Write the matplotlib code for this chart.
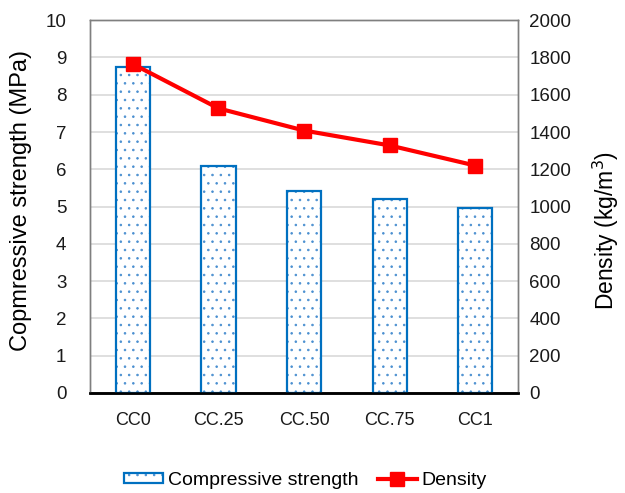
import matplotlib.pyplot as plt
import numpy as np
from matplotlib.lines import Line2D
from matplotlib.patches import Patch

plt.rcParams['font.family'] = ['Liberation Sans', 'DejaVu Sans']
plt.rcParams['hatch.linewidth'] = 0.6

mixes = ['CC0', 'CC.25', 'CC.50', 'CC.75', 'CC1']
strength = [8.75, 6.08, 5.43, 5.19, 4.97]       # MPa
density = [1765, 1527, 1408, 1328, 1220]         # kg/m3

blue = '#0070C0'
dot_blue = '#4a8fd0'
red = '#FF0000'

fig = plt.figure(figsize=(6.25, 4.93), dpi=100)
ax = fig.add_axes([0.144, 0.203, 0.685, 0.756])
ax2 = ax.twinx()

x = np.arange(len(mixes))
# dotted fill and outline drawn separately so the dots can be lighter than the edge
ax.bar(x, strength, width=0.4, facecolor='white', edgecolor=dot_blue,
       linewidth=0, hatch='..', zorder=3)
ax.bar(x, strength, width=0.4, fill=False, edgecolor=blue, linewidth=1.6, zorder=4)
ax.set_xlim(-0.5, len(mixes) - 0.5)
ax.set_ylim(0, 10)
ax.set_yticks(range(0, 11))
ax.set_xticks(x, mixes)
ax.grid(axis='y', color='#d9d9d9', linewidth=1.2, zorder=0)
ax.set_axisbelow(True)
ax.set_ylabel('Copmressive strength (MPa)', fontsize=17, labelpad=10)
ax.yaxis.label.set_y(0.515)

ax2.plot(x, density, color=red, linewidth=3, marker='s', markersize=10, zorder=5)
ax2.set_ylim(0, 2000)
ax2.set_yticks(range(0, 2001, 200))
ax2.set_ylabel('Density (kg/m$^3$)', fontsize=16.5, labelpad=14)
ax2.yaxis.label.set_y(0.437)

for a in (ax, ax2):
    a.tick_params(length=0, labelsize=13.5, colors='#1a1a1a', pad=8)
    for s in ('left', 'right', 'top'):
        a.spines[s].set_color('#7f7f7f')
        a.spines[s].set_linewidth(1.0)
    a.spines['bottom'].set_color('black')
    a.spines['bottom'].set_linewidth(1.8)
ax.tick_params(axis='y', pad=17)
ax.tick_params(axis='x', labelsize=13, pad=14)

bar_handle = (Patch(facecolor='white', edgecolor=dot_blue, hatch='..', linewidth=0),
              Patch(fill=False, edgecolor=blue, linewidth=1.6))
line_handle = Line2D([], [], color=red, linewidth=3, marker='s', markersize=10)
fig.legend([bar_handle, line_handle], ['Compressive strength', 'Density'],
           loc='center', bbox_to_anchor=(0.489, 0.026), ncol=2, frameon=False,
           fontsize=14, handlelength=2.0, handleheight=0.4, columnspacing=1.0,
           handletextpad=0.25)

fig.savefig('out.png', dpi=100)
